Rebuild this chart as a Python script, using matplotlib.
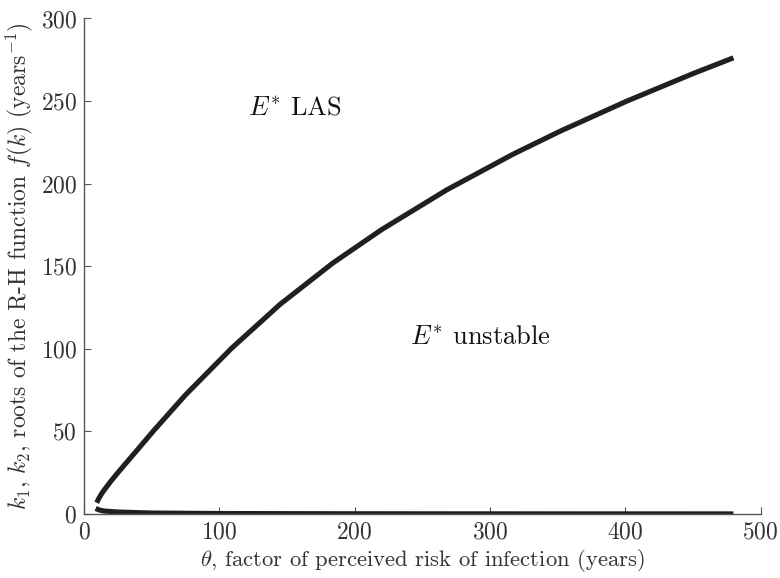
import matplotlib
matplotlib.use("Agg")
import matplotlib.pyplot as plt

# upper root k1
theta_upper = [9.4, 11, 13, 15, 20, 25, 37, 51, 75, 109, 145, 184, 220, 268, 317, 352, 401, 450, 480]
k_upper = [6.8, 9.5, 12.3, 14.6, 20, 25, 36.5, 50, 72.1, 100.3, 127, 152, 172.2, 196.2, 217.8, 231.8, 249.9, 266.6, 276.2]

# lower root k2
theta_lower = [8.6, 11, 15, 25, 50, 100, 200, 300, 400, 480]
k_lower = [3.4, 2.5, 1.8, 1.2, 0.6, 0.3, 0.15, 0.1, 0.08, 0.06]

x_ticks = [0, 100, 200, 300, 400, 500]
y_ticks = [0, 50, 100, 150, 200, 250, 300]

plt.rcParams["font.family"] = "cmr10"
plt.rcParams["mathtext.fontset"] = "cm"
plt.rcParams["axes.formatter.use_mathtext"] = True

line_color = "#231f20"
axis_color = "#555555"
text_color = "#333333"

fig = plt.figure(figsize=(7.8, 5.78), dpi=100)
ax = fig.add_axes([0.1077, 0.1107, 0.8673, 0.8573])

ax.plot(theta_upper, k_upper, color=line_color, lw=3.7, solid_capstyle="butt")
ax.plot(theta_lower, k_lower, color=line_color, lw=3.7, solid_capstyle="butt")

ax.set_xlim(0, 500)
ax.set_ylim(0, 300)
ax.set_xticks(x_ticks)
ax.set_yticks(y_ticks)

for side in ["top", "right"]:
    ax.spines[side].set_visible(False)
for side in ["left", "bottom"]:
    ax.spines[side].set_color(axis_color)
    ax.spines[side].set_linewidth(1.0)

ax.tick_params(direction="in", length=5, width=0.8, color=axis_color,
               labelcolor=text_color, labelsize=17, pad=5)

ax.set_xlabel(r"$\theta$, factor of perceived risk of infection (years)",
              fontsize=16.3, color=text_color, labelpad=3)
ax.set_ylabel(r"$k_1$, $k_2$, roots of the R-H function $f(k)$ (years$^{-1}$)",
              fontsize=17, color=text_color, labelpad=4)

ax.text(156, 246, r"$E^{*}$ LAS", fontsize=19, color="#111111", ha="center", va="center")
ax.text(293, 107, r"$E^{*}$ unstable", fontsize=19, color="#111111", ha="center", va="center")

fig.savefig("out.png", dpi=100)
